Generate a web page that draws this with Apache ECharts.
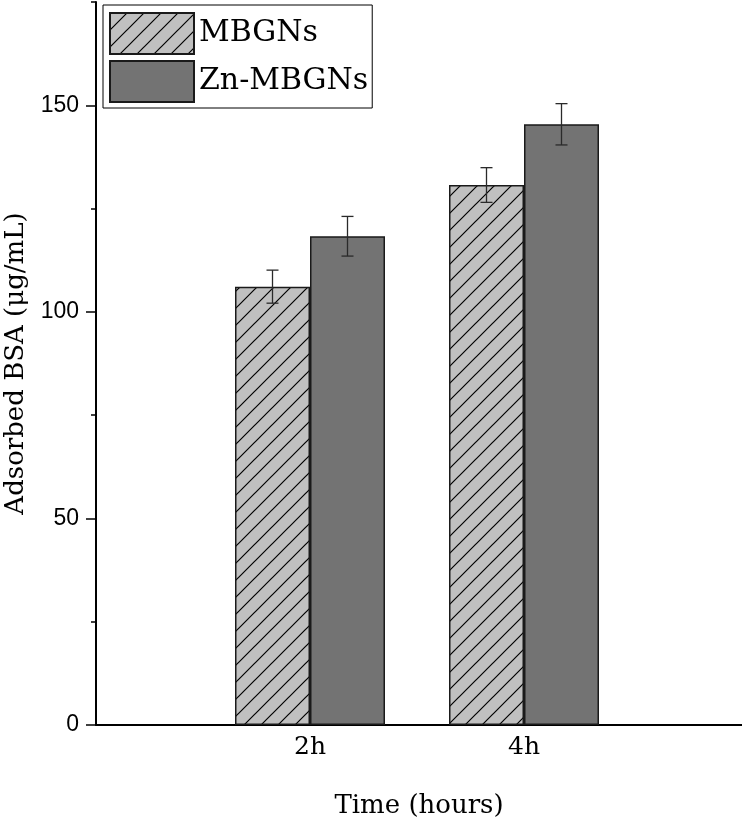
<!DOCTYPE html>
<html>
<head>
<meta charset="UTF-8">
<title>Adsorbed BSA</title>
<script src="https://cdn.jsdelivr.net/npm/echarts@6/dist/echarts.min.js"></script>
</head>
<body style="margin:0;background:#fff;">
<div id="container" style="width:742px;height:831px;"></div>
<script type="text/javascript">
// data
var timeLabels = ['2h', '4h'];
var timePos = [1, 2];
var mbgns = [106.1, 130.7];
var mbgnsErr = [4.0, 4.2];
var znMbgns = [118.3, 145.4];
var znMbgnsErr = [4.8, 5.0];

var serif = 'DejaVu Serif';
var sans = 'Liberation Sans';
var barW = 75;

// diagonal hatch for MBGNs
function hatch() {
  var s = 17;
  var c = document.createElement('canvas');
  c.width = s; c.height = s;
  var ctx = c.getContext('2d');
  ctx.fillStyle = '#c0c0c0';
  ctx.fillRect(0, 0, s, s);
  ctx.strokeStyle = '#000';
  ctx.lineWidth = 1.2;
  ctx.beginPath();
  ctx.moveTo(-2, s + 2); ctx.lineTo(s + 2, -2);
  ctx.moveTo(-2, 2); ctx.lineTo(2, -2);
  ctx.moveTo(s - 2, s + 2); ctx.lineTo(s + 2, s - 2);
  ctx.stroke();
  return c;
}

function pairs(ys) {
  return timePos.map(function (x, i) { return [x, ys[i]]; });
}
function errPairs(ys, es) {
  return timePos.map(function (x, i) { return [x, ys[i] - es[i], ys[i] + es[i]]; });
}

function errRender(offset) {
  return function (params, api) {
    var lo = api.coord([api.value(0), api.value(1)]);
    var hi = api.coord([api.value(0), api.value(2)]);
    var x = lo[0] + offset;
    var cap = 6;
    var st = { stroke: '#2a2a2a', lineWidth: 1.3 };
    return {
      type: 'group',
      children: [
        { type: 'line', shape: { x1: x, y1: lo[1], x2: x, y2: hi[1] }, style: st },
        { type: 'line', shape: { x1: x - cap, y1: lo[1], x2: x + cap, y2: lo[1] }, style: st },
        { type: 'line', shape: { x1: x - cap, y1: hi[1], x2: x + cap, y2: hi[1] }, style: st }
      ]
    };
  };
}

var dom = document.getElementById('container');
var myChart = echarts.init(dom);

var option = {
  animation: false,
  backgroundColor: '#fff',
  legend: {
    orient: 'vertical',
    left: 103,
    top: 5,
    padding: [7, 4, 5, 6],
    itemWidth: 84,
    itemHeight: 41,
    itemGap: 5,
    icon: 'rect',
    borderColor: '#000',
    borderWidth: 1,
    borderRadius: 0,
    textStyle: { fontFamily: serif, fontSize: 30, color: '#000' },
    data: ['MBGNs', 'Zn-MBGNs']
  },
  grid: { left: 96, right: 0, top: 2, bottom: 106, outerBoundsMode: 'none', containLabel: false },
  xAxis: {
    type: 'value',
    min: 0,
    max: 646 / 214,
    interval: 1,
    name: 'Time (hours)',
    nameLocation: 'middle',
    nameGap: 68,
    nameTextStyle: { fontFamily: serif, fontSize: 26, color: '#000' },
    axisLine: { lineStyle: { color: '#000', width: 2 } },
    axisTick: { show: false },
    splitLine: { show: false },
    axisLabel: {
      margin: 10,
      fontFamily: serif,
      fontSize: 25,
      color: '#000',
      showMaxLabel: false,
      formatter: function (v) {
        var i = timePos.indexOf(v);
        return i >= 0 ? timeLabels[i] : '';
      }
    }
  },
  yAxis: [
    {
      type: 'value',
      min: 0,
      max: 175,
      interval: 50,
      name: 'Adsorbed BSA (\u03bcg/mL)',
      nameLocation: 'middle',
      nameGap: 67,
      nameTextStyle: { fontFamily: serif, fontSize: 26, color: '#000' },
      axisLine: { show: true, lineStyle: { color: '#000', width: 2 } },
      axisTick: { show: true, length: 10, lineStyle: { color: '#000', width: 1.5 } },
      splitLine: { show: false },
      axisLabel: {
        margin: 17,
        fontFamily: sans,
        fontSize: 23,
        color: '#000',
        showMaxLabel: false
      }
    },
    {
      type: 'value',
      position: 'left',
      min: 0,
      max: 175,
      interval: 25,
      axisLine: { show: false },
      axisTick: { show: true, length: 5, lineStyle: { color: '#000', width: 1.5 } },
      axisLabel: { show: false },
      splitLine: { show: false }
    }
  ],
  series: [
    {
      name: 'MBGNs',
      type: 'bar',
      barWidth: barW,
      barGap: '0%',
      itemStyle: {
        color: { image: hatch(), repeat: 'repeat' },
        borderColor: '#1a1a1a',
        borderWidth: 1.5
      },
      data: pairs(mbgns)
    },
    {
      name: 'Zn-MBGNs',
      type: 'bar',
      barWidth: barW,
      barGap: '0%',
      itemStyle: { color: '#737373', borderColor: '#1a1a1a', borderWidth: 1.5 },
      data: pairs(znMbgns)
    },
    {
      type: 'custom',
      renderItem: errRender(-barW / 2),
      encode: { x: 0, y: [1, 2] },
      z: 5,
      data: errPairs(mbgns, mbgnsErr)
    },
    {
      type: 'custom',
      renderItem: errRender(barW / 2),
      encode: { x: 0, y: [1, 2] },
      z: 5,
      data: errPairs(znMbgns, znMbgnsErr)
    }
  ]
};

myChart.setOption(option);
</script>
</body>
</html>
